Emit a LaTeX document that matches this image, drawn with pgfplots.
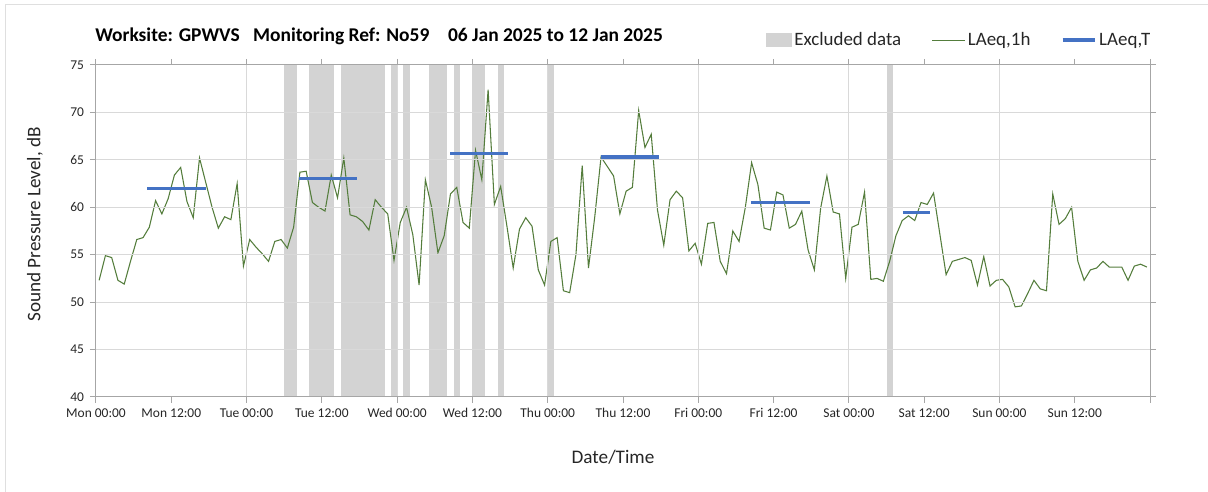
\documentclass[border=0pt]{standalone}
\usepackage{fontspec}
\setmainfont{Carlito}
\usepackage{pgfplots}
\usepackage{pgfplotstable}
\pgfplotsset{compat=1.18}
\definecolor{excl}{RGB}{211,211,211}
\definecolor{lgreen}{RGB}{84,125,60}
\definecolor{lblue}{RGB}{68,114,196}
\definecolor{gridc}{RGB}{217,217,217}
\definecolor{axc}{RGB}{166,166,166}
\definecolor{txt}{RGB}{38,38,38}

\pgfplotstableread{
x y
0.5 52.3
1.5 54.9
2.5 54.7
3.5 52.3
4.5 51.9
5.5 54.3
6.5 56.6
7.5 56.8
8.5 57.9
9.5 60.7
10.5 59.3
11.5 60.9
12.5 63.4
13.5 64.2
14.5 60.6
15.5 58.9
16.5 65.2
17.5 62.6
18.5 60.0
19.5 57.8
20.5 59.0
21.5 58.7
22.5 62.5
23.5 53.8
24.5 56.6
25.5 55.8
26.5 55.1
27.5 54.3
28.5 56.4
29.5 56.6
30.5 55.7
31.5 57.9
32.5 63.7
33.5 63.8
34.5 60.5
35.5 60.0
36.5 59.6
37.5 63.4
38.5 61.0
39.5 65.2
40.5 59.2
41.5 59.0
42.5 58.5
43.5 57.6
44.5 60.8
45.5 60.0
46.5 59.3
47.5 54.4
48.5 58.4
49.5 60.0
50.5 57.1
51.5 51.8
52.5 62.9
53.5 60.0
54.5 55.2
55.5 57.0
56.5 61.4
57.5 62.1
58.5 58.4
59.5 57.8
60.5 66.0
61.5 62.9
62.5 72.4
63.5 60.3
64.5 62.2
65.5 58.0
66.5 53.6
67.5 57.7
68.5 58.9
69.5 58.0
70.5 53.4
71.5 51.8
72.5 56.4
73.5 56.8
74.5 51.2
75.5 51.0
76.5 55.0
77.5 64.4
78.5 53.6
79.5 59.0
80.5 65.3
81.5 64.3
82.5 63.3
83.5 59.3
84.5 61.7
85.5 62.1
86.5 70.2
87.5 66.3
88.5 67.7
89.5 59.7
90.5 56.0
91.5 60.8
92.5 61.7
93.5 61.0
94.5 55.4
95.5 56.2
96.5 54.0
97.5 58.3
98.5 58.4
99.5 54.3
100.5 53.0
101.5 57.5
102.5 56.4
103.5 60.0
104.5 64.7
105.5 62.4
106.5 57.8
107.5 57.6
108.5 61.6
109.5 61.3
110.5 57.8
111.5 58.2
112.5 59.6
113.5 55.5
114.5 53.4
115.5 59.9
116.5 63.3
117.5 59.5
118.5 59.3
119.5 52.5
120.5 57.9
121.5 58.2
122.5 61.6
123.5 52.4
124.5 52.5
125.5 52.2
126.5 54.3
127.5 57.0
128.5 58.6
129.5 59.1
130.5 58.6
131.5 60.5
132.5 60.3
133.5 61.5
134.5 57.2
135.5 52.9
136.5 54.3
137.5 54.5
138.5 54.7
139.5 54.4
140.5 51.8
141.5 54.8
142.5 51.7
143.5 52.3
144.5 52.4
145.5 51.6
146.5 49.5
147.5 49.6
148.5 50.9
149.5 52.3
150.5 51.4
151.5 51.2
152.5 61.4
153.5 58.2
154.5 58.8
155.5 60.0
156.5 54.3
157.5 52.3
158.5 53.4
159.5 53.6
160.5 54.3
161.5 53.7
162.5 53.7
163.5 53.7
164.5 52.3
165.5 53.8
166.5 54.0
167.5 53.7
}\hourly

\pgfplotstableread{
x y
8.2 62.0
17.6 62.0
17.7 nan
32.4 63.0
41.6 63.0
41.7 nan
56.5 65.7
65.7 65.7
65.8 nan
80.5 65.3
89.7 65.3
89.8 nan
104.4 60.5
113.8 60.5
113.9 nan
128.6 59.45
132.9 59.45
}\laeqT

\begin{document}
\begin{tikzpicture}
\useasboundingbox (0,0) rectangle (906pt,369pt);
\draw[gray!25, line width=0.75pt] (3.75pt,0) -- (3.75pt,365.5pt) -- (906pt,365.5pt);
\node[anchor=west, inner sep=0pt, font=\fontsize{14.6}{16}\selectfont\bfseries, text=black] at (71.25pt,341.5pt)
  {Worksite: GPWVS\hspace{10pt}Monitoring Ref: No59\hspace{14pt}06 Jan 2025 to 12 Jan 2025};
\begin{axis}[
  at={(72pt,71.25pt)}, anchor=south west,
  scale only axis, width=790.5pt, height=249pt,
  xmin=0, xmax=168, ymin=40, ymax=75,
  axis on top,
  axis line style={axc, line width=0.75pt},
  tick style={axc, line width=0.75pt},
  tick align=outside, major tick length=4.5pt,
  ytick={40,45,...,75},
  xtick={0,24,...,168},
  xticklabels={Mon 00:00,Tue 00:00,Wed 00:00,Thu 00:00,Fri 00:00,Sat 00:00,Sun 00:00,},
  extra x ticks={12,36,...,156},
  extra x tick labels={Mon 12:00,Tue 12:00,Wed 12:00,Thu 12:00,Fri 12:00,Sat 12:00,Sun 12:00},
  extra x tick style={grid=none},
  xmajorgrids, ymajorgrids,
  major grid style={gridc, line width=0.75pt},
  /pgf/number format/assume math mode=true,
  ticklabel style={font=\fontsize{10.1}{12}\selectfont, text=txt},
  xticklabel style={yshift=-0.5pt},
  yticklabel style={xshift=-1pt},
  xlabel={Date/Time},
  ylabel={Sound Pressure Level, dB},
  label style={font=\fontsize{14.4}{16}\selectfont, text=txt},
  xlabel style={at={(axis description cs:0.4905,-0.181)}, anchor=center},
  ylabel style={at={(axis description cs:-0.058,0.52)}, anchor=center},
  legend columns=3,
  legend style={draw=none, fill=none, at={(axis description cs:1.003,1.075)}, anchor=east,
    font=\fontsize{14.2}{16}\selectfont, text=txt,
    /tikz/every even column/.append style={column sep=21pt},
    inner sep=0pt},
  legend image code/.code={\draw[#1] (0cm,0cm) -- (0.85cm,0cm);},
  unbounded coords=jump,
]
\addlegendimage{area legend, draw=none, fill=excl, legend image code/.code={\fill[excl] (0cm,-0.17cm) rectangle (0.68cm,0.2cm);}}
\addplot[fill=excl, draw=none, forget plot] coordinates {(30,40)(30,75)(32,75)(32,40)} -- cycle;
\addplot[fill=excl, draw=none, forget plot] coordinates {(34,40)(34,75)(38,75)(38,40)} -- cycle;
\addplot[fill=excl, draw=none, forget plot] coordinates {(39,40)(39,75)(46,75)(46,40)} -- cycle;
\addplot[fill=excl, draw=none, forget plot] coordinates {(47,40)(47,75)(48,75)(48,40)} -- cycle;
\addplot[fill=excl, draw=none, forget plot] coordinates {(49,40)(49,75)(50,75)(50,40)} -- cycle;
\addplot[fill=excl, draw=none, forget plot] coordinates {(53,40)(53,75)(56,75)(56,40)} -- cycle;
\addplot[fill=excl, draw=none, forget plot] coordinates {(57,40)(57,75)(58,75)(58,40)} -- cycle;
\addplot[fill=excl, draw=none, forget plot] coordinates {(60,40)(60,75)(62,75)(62,40)} -- cycle;
\addplot[fill=excl, draw=none, forget plot] coordinates {(64,40)(64,75)(65,75)(65,40)} -- cycle;
\addplot[fill=excl, draw=none, forget plot] coordinates {(72,40)(72,75)(73,75)(73,40)} -- cycle;
\addplot[fill=excl, draw=none, forget plot] coordinates {(126,40)(126,75)(127,75)(127,40)} -- cycle;
\addplot[lgreen, line width=0.8pt] table {\hourly};
\addplot[lblue, line width=2.4pt] table {\laeqT};
\legend{Excluded data, {LAeq,1h}, {LAeq,T}}
\end{axis}
\end{tikzpicture}
\end{document}
